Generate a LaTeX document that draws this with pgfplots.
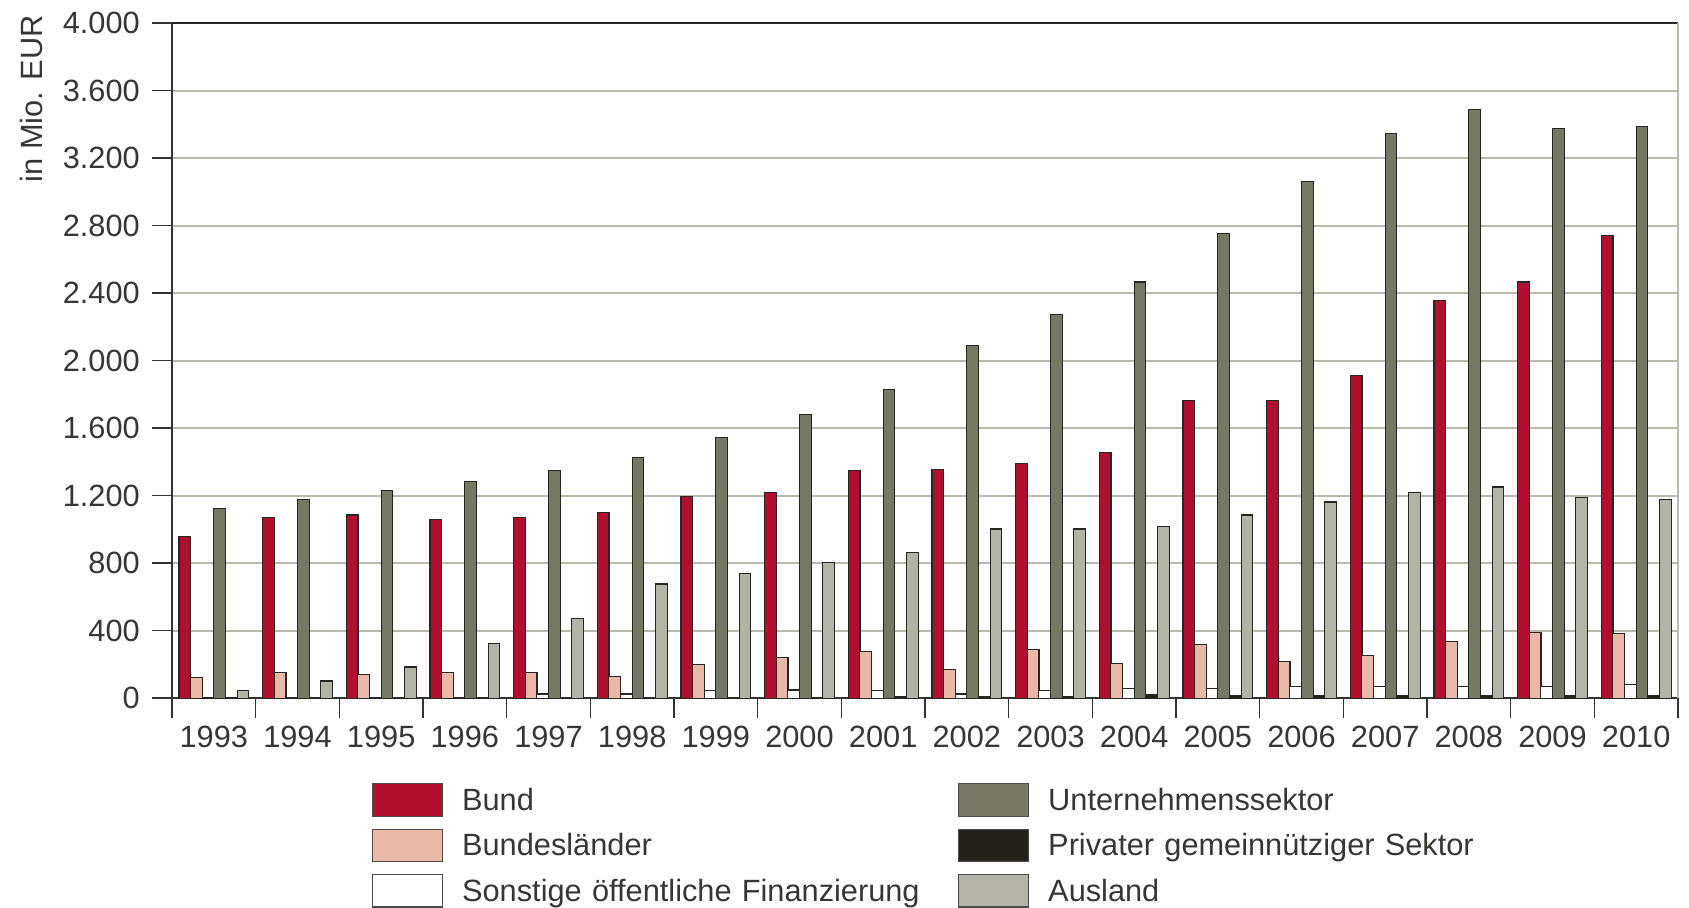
\documentclass[border=0pt]{standalone}
\usepackage{fontspec}
\setmainfont{Liberation Sans}
\usepackage{pgfplots}
\pgfplotsset{compat=1.18}
\usepackage{pgfplotstable}
\usetikzlibrary{calc}

\definecolor{bund}{RGB}{176,16,46}
\definecolor{laender}{RGB}{234,184,166}
\definecolor{untern}{RGB}{118,120,100}
\definecolor{priv}{RGB}{35,33,24}
\definecolor{ausland}{RGB}{180,180,166}
\definecolor{gridc}{RGB}{185,185,172}
\definecolor{txt}{RGB}{55,55,50}

% Mio. EUR, 1993-2010
\pgfplotstableread{
x  bund laender sonst untern priv ausland
0  958  121   3  1125  5   45
1  1073 153   3  1176  5   102
2  1086 140   3  1233  5   185
3  1061 153   3  1284  5   326
4  1073 153   25 1348  5   473
5  1099 128   25 1425  5   677
6  1195 198   45 1546  5   741
7  1220 243   49 1681  5   805
8  1348 275   45 1828  8   863
9  1355 172   25 2090  8   1003
10 1393 287   45 2275  8   1003
11 1457 204   59 2467  20  1016
12 1764 320   59 2754  15  1086
13 1764 217   69 3061  15  1163
14 1911 255   69 3348  15  1220
15 2358 338   69 3489  15  1252
16 2467 390   69 3374  15  1188
17 2741 383   83 3387  15  1176
}\data

\begin{document}
\fontsize{12.3pt}{15pt}\selectfont
\color{txt}
\begin{tikzpicture}
\useasboundingbox (-68.8pt,-83.9pt) rectangle (606.8pt,279.3pt);
\begin{axis}[
    scale only axis,
    width=602.4pt, height=270pt,
    clip=false,
    ybar, bar width=4.7pt,
    xmin=-0.5, xmax=17.5,
    ymin=0, ymax=4000,
    ytick={0,400,...,4000},
    scaled y ticks=false,
    /pgf/number format/.cd, use comma, 1000 sep={.}, assume math mode=true,
    /pgfplots/.cd,
    xtick={-0.5,0.5,...,17.5},
    xticklabels={},
    extra x ticks={0,...,17},
    extra x tick labels={1993,1994,1995,1996,1997,1998,1999,2000,2001,2002,2003,2004,2005,2006,2007,2008,2009,2010},
    extra x tick style={tick style={draw=none}, xticklabel style={yshift=1.3pt}},
    tick align=outside,
    major tick length=8pt,
    tick style={black!80, line width=0.6pt},
    yticklabel style={xshift=-0.6pt},
    ymajorgrids,
    major grid style={gridc, line width=0.7pt},
    axis lines*=left,
    axis line style={black!80, line width=0.6pt},
    every axis plot/.append style={draw=black!85, line width=0.45pt},
    legend style={at={(rel axis cs:0,0)}, anchor=north west,
        xshift=80pt, yshift=-34pt, draw=none, fill=none,
        inner sep=0pt, outer sep=0pt,
        legend columns=2, column sep=7.6pt, row sep=4.7pt,
        nodes={inner sep=0pt, text width=190.8pt}},
    legend cell align=left,
]
\addplot[fill=bund, bar shift=-11.6pt, forget plot] table[x=x, y=bund] {\data};
\addplot[fill=laender, bar shift=-6.95pt, forget plot] table[x=x, y=laender] {\data};
\addplot[fill=white, bar shift=-2.3pt, forget plot] table[x=x, y=sonst] {\data};
\addplot[fill=untern, bar shift=2.35pt, forget plot] table[x=x, y=untern] {\data};
\addplot[fill=priv, bar shift=7pt, forget plot] table[x=x, y=priv] {\data};
\addplot[fill=ausland, bar shift=11.65pt, forget plot] table[x=x, y=ausland] {\data};

\addlegendimage{legend image code/.code={\draw[fill=bund,draw=black!70] (0pt,-5.9pt) rectangle (28pt,7.1pt);}}
\addlegendentry{Bund}
\addlegendimage{legend image code/.code={\draw[fill=untern,draw=black!70] (0pt,-5.9pt) rectangle (28pt,7.1pt);}}
\addlegendentry{Unternehmenssektor}
\addlegendimage{legend image code/.code={\draw[fill=laender,draw=black!70] (0pt,-5.9pt) rectangle (28pt,7.1pt);}}
\addlegendentry{Bundesländer}
\addlegendimage{legend image code/.code={\draw[fill=priv,draw=black!70] (0pt,-5.9pt) rectangle (28pt,7.1pt);}}
\addlegendentry{Privater gemeinnütziger Sektor}
\addlegendimage{legend image code/.code={\draw[fill=white,draw=black!70] (0pt,-5.9pt) rectangle (28pt,7.1pt);}}
\addlegendentry{Sonstige öffentliche Finanzierung}
\addlegendimage{legend image code/.code={\draw[fill=ausland,draw=black!70] (0pt,-5.9pt) rectangle (28pt,7.1pt);}}
\addlegendentry{Ausland}

\draw[black!85, line width=0.7pt] (rel axis cs:0,1) -- (rel axis cs:1,1);
\draw[gridc, line width=0.7pt] (rel axis cs:1,0) -- (rel axis cs:1,1);
\node[rotate=90, anchor=south east, inner sep=0pt] at ($(rel axis cs:0,1)+(-51.6pt,3.3pt)$) {in Mio. EUR};
\end{axis}
\end{tikzpicture}
\end{document}
